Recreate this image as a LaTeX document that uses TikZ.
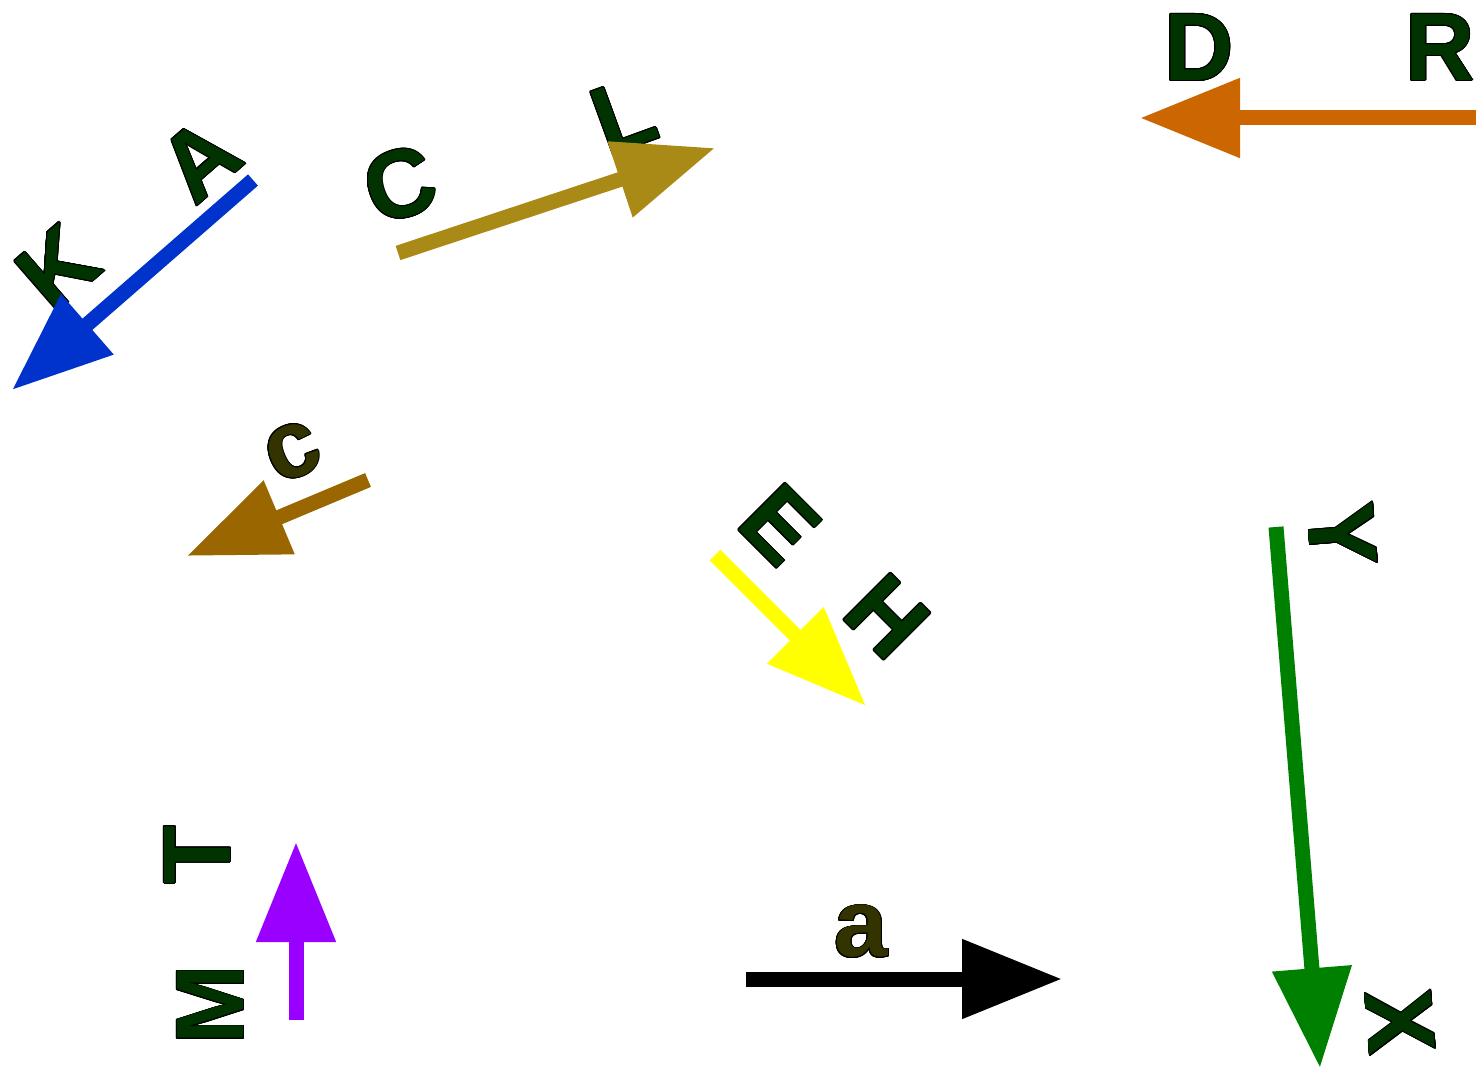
\documentclass[tikz,border=0pt]{standalone}
\usepackage{fontspec}
\setmainfont{Liberation Sans}
\usepackage{contour}
\usetikzlibrary{arrows.meta}
\contourlength{0.45pt}
\definecolor{lettergreen}{RGB}{0,51,0}
\definecolor{letterolive}{RGB}{51,51,0}
\definecolor{arrowblue}{RGB}{0,51,204}
\definecolor{arrowgold}{RGB}{170,138,22}
\definecolor{arroworange}{RGB}{204,102,0}
\definecolor{arrowbrown}{RGB}{153,102,0}
\definecolor{arrowyellow}{RGB}{255,255,0}
\definecolor{arrowgreen}{RGB}{0,128,0}
\definecolor{arrowpurple}{RGB}{153,0,255}
\tikzstyle{every picture}=[->,>={Triangle[length=50pt,width=38pt]}]
\tikzstyle{shaft}=[draw, line width=7.5pt]

\begin{document}
\begin{tikzpicture}[x=0.5pt,y=-0.5pt]
{
\useasboundingbox (0,0) rectangle (1476,1068);

    \coordinate (ka1) at (253,180);
    \coordinate (ka2) at (12,390);
    \coordinate (cl1) at (398,253);
    \coordinate (cl2) at (715,148);
    \coordinate (dr1) at (1476,118);
    \coordinate (dr2) at (1140,118);
    \coordinate (c1) at (368,480);
    \coordinate (c2) at (187,556);
    \coordinate (eh1) at (715,555);
    \coordinate (eh2) at (866,706);
    \coordinate (xy1) at (1276,527);
    \coordinate (xy2) at (1320,1068);
    \coordinate (mt1) at (296,1020);
    \coordinate (mt2) at (296,842);
    \coordinate (a1) at (746,979);
    \coordinate (a2) at (1062,979);

\begin{scope}[every node/.style={font=\fontsize{48}{48}\selectfont\bfseries, text=lettergreen}]

    \node[rotate=41](A) at (200,160) {\contour{black}{A}};
    \node[rotate=41](K) at (58,268) {\contour{black}{K}};
    \node[rotate=18](C) at (400,185) {\contour{black}{C}};
    \node[rotate=20](L) at (624,116) {\contour{black}{L}};
    \node(D) at (1199,48) {\contour{black}{D}};
    \node(R) at (1440,48) {\contour{black}{R}};
    \node[rotate=23, text=letterolive](c) at (293,452) {\contour{black}{c}};
    \node[rotate=-45](E) at (780,525) {\contour{black}{E}};
    \node[rotate=-45](H) at (887,617) {\contour{black}{H}};
    \node[rotate=-85.4](Y) at (1342,535) {\contour{black}{Y}};
    \node[rotate=-85.4](X) at (1400,1022) {\contour{black}{X}};
    \node[rotate=90](T) at (198,855) {\contour{black}{T}};
    \node[rotate=90](M) at (211,1005) {\contour{black}{M}};
    \node[text=letterolive](a) at (861,932) {\contour{black}{a}};
\end{scope}

\path[shaft, arrowblue] (ka1) -- (ka2);
\path[shaft, arrowgold] (cl1) -- (cl2);
\path[shaft, arroworange] (dr1) -- (dr2);
\path[shaft, arrowbrown] (c1) -- (c2);
\path[shaft, arrowyellow] (eh1) -- (eh2);
\path[shaft, arrowgreen] (xy1) -- (xy2);
\path[shaft, arrowpurple] (mt1) -- (mt2);
\path[shaft, black] (a1) -- (a2);

}
\end{tikzpicture}
\end{document}
